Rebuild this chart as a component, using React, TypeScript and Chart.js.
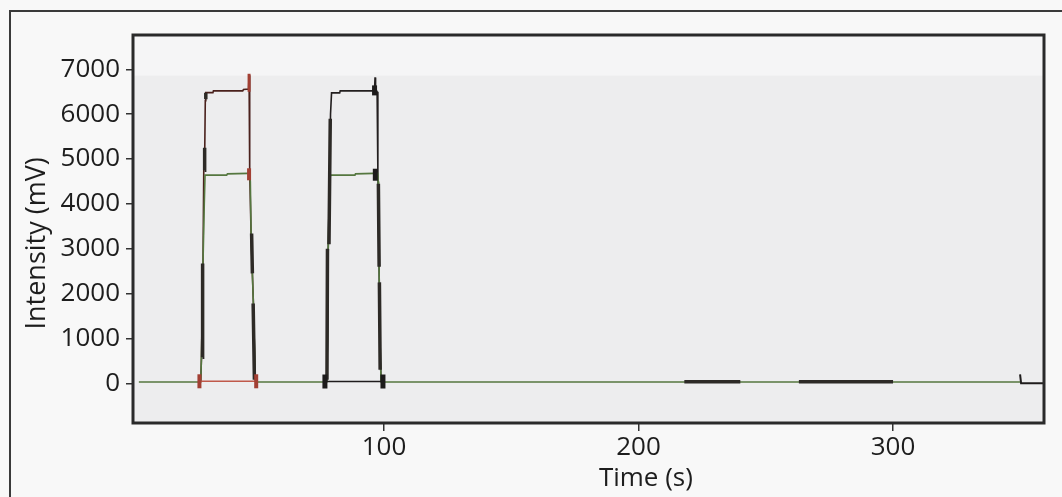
import { useEffect, useRef } from "react";
import { Chart, registerables } from "chart.js";

Chart.register(...registerables);

// ---------- data (time in s, intensity in mV) ----------
const xTickValues = [100, 200, 300];
const yTickValues = [0, 1000, 2000, 3000, 4000, 5000, 6000, 7000];
const xTitle = "Time (s)";
const yTitle = "Intensity (mV)";

// green channel: whole run
const greenT = [3.7, 28.0, 28.3, 28.9, 29.4, 29.7, 38.2, 38.5, 46.6, 47.3, 47.5, 47.8, 48.3, 48.7, 49.4, 49.8,
  77.5, 77.8, 78.1, 78.6, 79.0, 88.6, 88.8, 96.0, 97.5, 97.7, 97.9, 98.2, 98.6, 98.9, 349.9];
const greenV = [30, 30, 580, 2670, 4000, 4640, 4640, 4670, 4680, 4680, 4500, 3300, 2450, 1780, 100, 30,
  30, 1000, 3000, 4500, 4640, 4640, 4670, 4680, 4680, 4500, 3500, 2000, 500, 30, 30];

// upper channel, first pulse
const upper1T = [28.0, 28.3, 28.9, 29.2, 29.6, 29.8, 30.0, 32.8, 33.0, 44.5, 44.8, 46.8, 47.0, 47.2, 47.3, 47.8, 48.3, 48.7, 49.4, 49.8];
const upper1V = [30, 580, 2670, 4750, 5250, 6300, 6480, 6480, 6520, 6520, 6550, 6560, 6870, 6550, 4700, 3300, 2450, 1780, 100, 30];

// upper channel, second pulse
const upper2T = [77.5, 77.8, 78.1, 78.6, 79.0, 79.4, 82.6, 82.8, 95.3, 96.3, 96.5, 96.7, 97.3, 97.6, 97.9, 98.2, 98.6, 98.9];
const upper2V = [30, 1000, 3000, 4500, 6000, 6475, 6475, 6520, 6520, 6560, 6820, 6560, 6500, 4700, 3500, 2000, 500, 30];

// reference segments under the pulses (start / end marks)
const ref1T = [27.5, 49.8];
const ref1V = [45, 45];
const ref2T = [76.8, 99.6];
const ref2V = [40, 40];

// tail of the run
const tailT = [349.9, 350.3, 362];
const tailV = [200, 0, 0];

// dense (thick) stretches of the dark trace
const boldT = [28.7, 28.75, 0, 29.5, 29.55, 0, 30.0, 30.0, 0, 48.0, 48.3, 0, 48.6, 49.1, 0,
  77.6, 77.8, 0, 78.4, 78.9, 0, 97.8, 98.1, 0, 98.2, 98.5, 0, 218, 240, 0, 263, 300];
const boldV = [580, 2670, null, 4750, 5250, null, 6330, 6480, null, 3340, 2450, null, 1780, 80, null,
  80, 3000, null, 3100, 5900, null, 4450, 2600, null, 2250, 300, null, 35, 35, null, 35, 35];

// small blocks at the pulse corners
const redMarkT = [47.0, 47.0];
const redMarkV = [6700, 4660];
const darkMarkT = [96.3, 96.6];
const darkMarkV = [6530, 4650];

const pts = (t: number[], v: (number | null)[]) => t.map((x, i) => ({ x, y: v[i] }));

const FONT = "'Open Sans', 'DejaVu Sans', sans-serif";
const TEXT = "#1d1d1d";

const bgPlugin = {
  id: "bgPlugin",
  beforeDraw(chart: any) {
    const { ctx, chartArea, width, height, scales } = chart;
    ctx.save();
    ctx.fillStyle = "#f8f8f8";
    ctx.fillRect(0, 0, width, height);
    ctx.strokeStyle = "#3a3a3a";
    ctx.lineWidth = 2;
    ctx.strokeRect(10, 11, width + 20, height + 20);
    ctx.fillStyle = "#ededee";
    ctx.fillRect(chartArea.left, chartArea.top, chartArea.right - chartArea.left, chartArea.bottom - chartArea.top);
    const yb = scales.y.getPixelForValue(6860);
    ctx.fillStyle = "#f5f5f6";
    ctx.fillRect(chartArea.left, chartArea.top, chartArea.right - chartArea.left, yb - chartArea.top);
    ctx.restore();
  },
  afterDraw(chart: any) {
    const { ctx, chartArea } = chart;
    ctx.save();
    ctx.strokeStyle = "#2a2a2a";
    ctx.lineWidth = 3;
    ctx.strokeRect(chartArea.left, chartArea.top, chartArea.right - chartArea.left, chartArea.bottom - chartArea.top);
    // axis titles
    ctx.fillStyle = TEXT;
    ctx.textAlign = "center";
    ctx.textBaseline = "middle";
    const w = chartArea.right - chartArea.left;
    const h = chartArea.bottom - chartArea.top;
    ctx.font = `26px ${FONT}`;
    ctx.fillText(xTitle, chartArea.left + w * 0.563, 479);
    ctx.font = `27px ${FONT}`;
    ctx.translate(37, chartArea.top + h * 0.537);
    ctx.rotate(-Math.PI / 2);
    ctx.fillText(yTitle, 0, 0);
    ctx.restore();
  },
};

const lineDs = (label: string, data: any[], color: string, width: number) => ({
  label,
  data,
  borderColor: color,
  backgroundColor: color,
  borderWidth: width,
  pointRadius: 0,
  tension: 0,
  fill: false,
  spanGaps: false,
});

export default function App() {
  const ref = useRef<HTMLCanvasElement | null>(null);

  useEffect(() => {
    if (!ref.current) return;
    const chart = new Chart(ref.current, {
      type: "line",
      data: {
        datasets: [
          {
            label: "red marks",
            data: [...pts(ref1T, ref1V), ...pts(redMarkT, redMarkV)],
            showLine: false,
            pointStyle: "line",
            pointRotation: 90,
            pointRadius: [7, 7, 9, 6],
            pointBorderWidth: [4, 4, 3, 4],
            pointBorderColor: "#a23f33",
            borderColor: "#a23f33",
          } as any,
          {
            label: "dark marks",
            data: [...pts(ref2T, ref2V), ...pts(darkMarkT, darkMarkV)],
            showLine: false,
            pointStyle: "line",
            pointRotation: 90,
            pointRadius: [7, 7, 5, 6],
            pointBorderWidth: 5,
            pointBorderColor: "#1d1b1b",
            borderColor: "#1d1b1b",
          } as any,
          lineDs("dense", pts(boldT, boldV), "#2d2a26", 3.5),
          lineDs("ref1", pts(ref1T, ref1V), "#c0594a", 1.6),
          lineDs("ref2", pts(ref2T, ref2V), "#1f1c1c", 1.6),
          lineDs("green", pts(greenT, greenV), "#55773f", 1.6),
          lineDs("upper1", pts(upper1T, upper1V), "#4a211c", 1.6),
          lineDs("upper2", pts(upper2T, upper2V), "#231f1f", 1.6),
          lineDs("tail", pts(tailT, tailV), "#1f1c1c", 2),
        ],
      },
      options: {
        animation: false,
        responsive: false,
        devicePixelRatio: 1,
        layout: { padding: { top: 35, right: 18, left: 0, bottom: 0 } },
        plugins: { legend: { display: false }, tooltip: { enabled: false } },
        scales: {
          x: {
            type: "linear",
            min: 1.4,
            max: 359.3,
            afterBuildTicks: (s: any) => {
              s.ticks = xTickValues.map((value) => ({ value }));
            },
            afterFit: (s: any) => {
              s.height = 74;
            },
            grid: { drawOnChartArea: false, drawTicks: true, tickLength: 8, color: "#333", lineWidth: 1.5 },
            border: { display: false },
            ticks: {
              font: { family: FONT, size: 26 },
              color: TEXT,
              padding: 1,
              maxRotation: 0,
              callback: (v: any) => String(v),
            },
            title: { display: false },
          },
          y: {
            type: "linear",
            min: -885,
            max: 7765,
            afterBuildTicks: (s: any) => {
              s.ticks = yTickValues.map((value) => ({ value }));
            },
            afterFit: (s: any) => {
              s.width = 133;
            },
            grid: { drawOnChartArea: false, drawTicks: true, tickLength: 7, color: "#333", lineWidth: 1.5 },
            border: { display: false },
            ticks: {
              font: { family: FONT, size: 26 },
              color: TEXT,
              padding: 6,
              callback: (v: any) => String(v),
            },
            title: { display: false },
          },
        },
      },
      plugins: [bgPlugin],
    });
    return () => chart.destroy();
  }, []);

  return (
    <div style={{ position: "fixed", left: 0, top: 0, width: 1062, height: 497, background: "#f8f8f8" }}>
      <canvas ref={ref} width={1062} height={497} style={{ display: "block" }} />
    </div>
  );
}
